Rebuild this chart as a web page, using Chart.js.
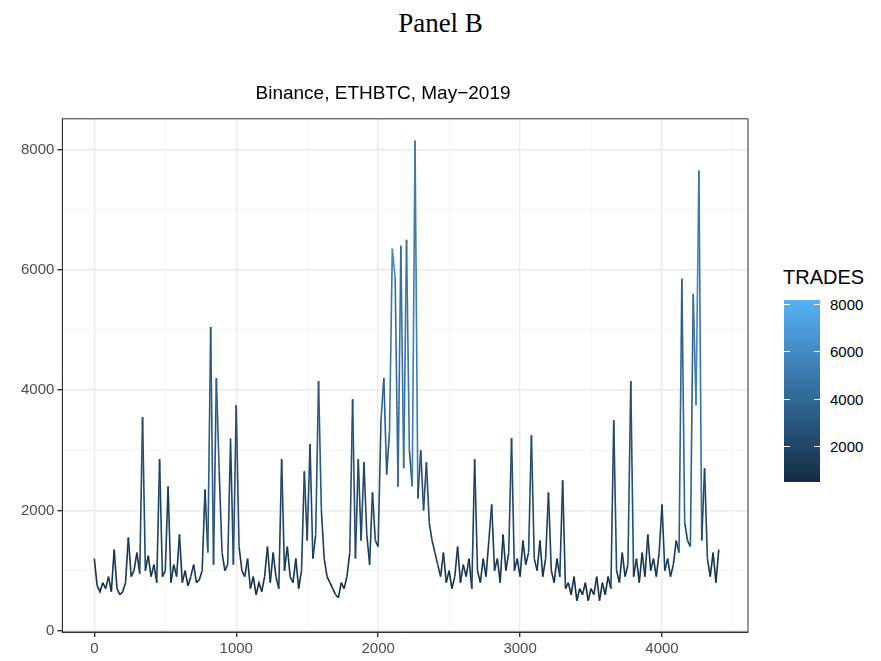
<!DOCTYPE html>
<html lang="en">
<head>
<meta charset="UTF-8" />
<title>Panel B</title>
<script src="https://cdn.jsdelivr.net/npm/chart.js"></script>
<style>
  body { margin:0; background:white; font-family:"Liberation Sans", Arial, sans-serif; }
  #wrap { position:relative; width:881px; height:661px; }
  #panel { position:absolute; top:8px; left:0; width:881px; text-align:center; font-family:"Liberation Serif", serif; font-size:27px; color:#000; }
  #box { position:absolute; left:0; top:70px; width:770px; height:591px; }
  #legTitle { position:absolute; left:783px; top:266px; font-size:20px; color:#000; }
  #bar { position:absolute; left:784px; top:300px; width:36px; height:182px; background:linear-gradient(to top,#132B43,#56B1F7); }
  .lt { position:absolute; left:830px; font-size:15px; color:#000; transform:translateY(-50%); }
  .tk { position:absolute; height:1px; width:6px; background:white; }
</style>
</head>
<body>
<div id="wrap">
  <div id="panel">Panel B</div>
  <div id="box"><canvas id="chart"></canvas></div>
  <div id="legTitle">TRADES</div>
  <div id="bar"></div>
</div>
<script>
const step = 20;
const trades = [1200,750,650,800,700,900,650,1350,700,600,650,800,1550,900,1000,1300,950,3550,1000,1250,
900,1100,800,2850,900,1000,2400,800,1100,900,1600,800,1000,750,900,1100,800,850,1000,2350,
1300,5050,1100,4200,2650,1300,1000,1100,3200,1100,3750,1400,1000,900,1200,700,900,600,800,650,
900,1400,800,1300,900,700,2850,1000,1400,900,800,1200,700,1000,2650,1500,3100,1200,1600,4150,
2000,1200,900,800,700,600,550,800,700,900,1300,3850,1200,2850,1500,2800,1600,1100,2300,1500,
1400,3500,4200,2600,3300,6350,5850,2400,6400,2700,6500,3000,2400,8150,2200,3000,2000,2800,1800,1500,
1300,1100,900,1300,800,1000,700,900,1400,800,1100,900,1200,700,2850,1000,800,1200,900,1500,
2100,1000,1200,800,1600,1000,1300,3200,1000,1200,900,1500,1100,1300,3250,1200,1000,1500,900,1200,
2300,1000,800,1200,900,2500,700,800,600,900,500,700,600,800,500,700,600,900,500,800,
600,900,700,3500,1000,800,1300,900,1100,4150,900,1200,800,1300,900,1600,1000,1200,900,1300,
2100,1000,1200,900,1100,1500,1300,5850,1800,1500,1400,5600,3750,7650,1500,2700,1200,900,1300,800,1350];
const yTicks = [0,2000,4000,6000,8000];
const xTicks = [0,1000,2000,3000,4000];
const legendTicks = [2000,4000,6000,8000];

const pts = trades.map((v,i)=>({x:i*step, y:v}));
const vmin = Math.min(...trades), vmax = Math.max(...trades);
const lo = [0x13,0x2B,0x43], hi = [0x56,0xB1,0xF7];
function col(v){
  const t = Math.max(0,Math.min(1,(v-vmin)/(vmax-vmin)));
  return 'rgb('+lo.map((c,k)=>Math.round(c+(hi[k]-c)*t)).join(',')+')';
}

// colour bar labels
const barTop = 300, barH = 182;
legendTicks.forEach(t=>{
  const y = barTop + barH*(1-(t-vmin)/(vmax-vmin));
  const l = document.createElement('div'); l.className='lt'; l.style.top=y+'px'; l.textContent=t;
  document.getElementById('wrap').appendChild(l);
  [784,814].forEach(x=>{ const k=document.createElement('div'); k.className='tk'; k.style.left=x+'px'; k.style.top=y+'px'; document.getElementById('wrap').appendChild(k); });
});

new Chart(document.getElementById('chart'),{
  type:'line',
  data:{datasets:[{data:pts, borderWidth:1.6, pointRadius:0, tension:0,
    segment:{borderColor:c=>col((c.p0.parsed.y+c.p1.parsed.y)/2)}}]},
  options:{
    responsive:true, maintainAspectRatio:false, animation:false,
    layout:{padding:{left:18,right:22,top:0,bottom:0}},
    plugins:{legend:{display:false}, tooltip:{enabled:false},
      title:{display:true, text:'Binance, ETHBTC, May\u22122019', color:'#000', font:{size:19, family:'Liberation Sans', weight:'normal'}, padding:{top:12,bottom:14}}},
    scales:{
      x:{type:'linear', min:-225, max:4606,
        afterBuildTicks:a=>{a.ticks=[0,500,1000,1500,2000,2500,3000,3500,4000,4500].map(v=>({value:v}));},
        ticks:{color:'#4d4d4d', font:{size:15, family:'Liberation Sans'}, maxRotation:0, autoSkip:false,
          callback:v=>xTicks.includes(v)?v:''},
        grid:{color:c=>xTicks.includes(c.tick.value)?'#ebebeb':'#f3f3f3', lineWidth:c=>xTicks.includes(c.tick.value)?1.4:0.8, tickColor:c=>xTicks.includes(c.tick.value)?'#333':'rgba(0,0,0,0)', tickLength:5},
        border:{color:'#333', width:1}},
      y:{min:-20, max:8510,
        afterBuildTicks:a=>{a.ticks=[0,1000,2000,3000,4000,5000,6000,7000,8000].map(v=>({value:v}));},
        ticks:{color:'#4d4d4d', font:{size:15, family:'Liberation Sans'}, autoSkip:false,
          callback:v=>yTicks.includes(v)?v:''},
        grid:{color:c=>yTicks.includes(c.tick.value)?'#ebebeb':'#f3f3f3', lineWidth:c=>yTicks.includes(c.tick.value)?1.4:0.8, tickColor:c=>yTicks.includes(c.tick.value)?'#333':'rgba(0,0,0,0)', tickLength:5},
        border:{color:'#333', width:1}}
    }
  },
  plugins:[{id:'frame', afterDraw(ch){const a=ch.chartArea,g=ch.ctx;g.save();g.strokeStyle='#333';g.lineWidth=1;g.strokeRect(a.left,a.top,a.right-a.left,a.bottom-a.top);g.restore();}}]
});
</script>
</body>
</html>
